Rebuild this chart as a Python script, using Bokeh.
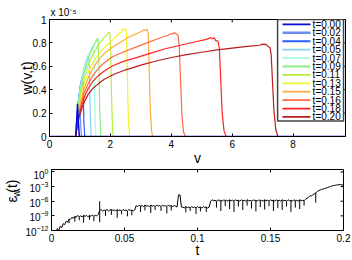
import numpy as np
from math import pi
from bokeh.plotting import figure
from bokeh.models import FixedTicker, ColumnDataSource
from bokeh.layouts import column, row
from bokeh.embed import file_html
from bokeh.resources import INLINE
from bokeh.core.properties import value

FONT = "Liberation Sans"

# ---------------- data: top panel (w in units of 1e-5) ----------------
legend_labels = ["t=0.00", "t=0.02", "t=0.04", "t=0.05", "t=0.07", "t=0.09",
                 "t=0.11", "t=0.13", "t=0.15", "t=0.16", "t=0.18", "t=0.20"]
line_colors = ["#0a0ad8", "#6e8cf2", "#2a5cff", "#8ad0ff", "#a8fce6", "#88ee88",
               "#b6ee3a", "#f2f22e", "#ffaa3c", "#ff6a48", "#ff2424", "#b81c1c"]

v_000 = [0.0, 0.86, 0.89, 0.92, 0.95, 0.98, 9.72]
w_000 = [0, 0, 0.12, 0.28, 0.12, 0, 0]
v_002 = [0.86, 0.9, 0.95, 0.99, 1.02, 1.05]
w_002 = [0, 0.16, 0.30, 0.37, 0.12, 0]
v_004 = [0.86, 0.9, 0.96, 1.02, 1.07, 1.1, 1.13, 1.16]
w_004 = [0, 0.17, 0.34, 0.45, 0.51, 0.44, 0.12, 0]
v_005 = [0.86, 0.9, 0.96, 1.04, 1.13, 1.22, 1.28, 1.31, 1.34, 1.37]
w_005 = [0, 0.17, 0.34, 0.47, 0.58, 0.66, 0.70, 0.58, 0.18, 0]
v_007 = [0.86, 0.9, 0.96, 1.04, 1.13, 1.22, 1.32, 1.39, 1.43, 1.46, 1.49, 1.52]
w_007 = [0, 0.16, 0.32, 0.45, 0.56, 0.64, 0.72, 0.76, 0.78, 0.66, 0.22, 0]
v_009 = [0.86, 0.9, 0.96, 1.04, 1.13, 1.22, 1.32, 1.42, 1.5, 1.56, 1.59, 1.62, 1.65, 1.68]
w_009 = [0, 0.15, 0.30, 0.43, 0.54, 0.62, 0.70, 0.76, 0.80, 0.83, 0.84, 0.66, 0.22, 0]
v_011 = [0.86, 0.91, 0.97, 1.05, 1.15, 1.27, 1.42, 1.6, 1.78, 1.9, 1.95, 1.98, 2.01, 2.04, 2.07, 2.1]
w_011 = [0, 0.14, 0.28, 0.40, 0.51, 0.61, 0.70, 0.78, 0.84, 0.875, 0.89, 0.885, 0.72, 0.32, 0.06, 0]
v_013 = [0.86, 0.91, 0.97, 1.05, 1.15, 1.27, 1.42, 1.6, 1.8, 2.05, 2.25, 2.37, 2.42, 2.46,
         2.5, 2.53, 2.56, 2.59, 2.63]
w_013 = [0, 0.12, 0.25, 0.36, 0.46, 0.55, 0.63, 0.70, 0.76, 0.82, 0.87, 0.90, 0.92, 0.91,
         0.92, 0.87, 0.50, 0.14, 0]
v_015 = [0.86, 0.91, 0.97, 1.05, 1.15, 1.27, 1.42, 1.6, 1.8, 2.05, 2.35, 2.65, 2.9, 3.04,
         3.1, 3.15, 3.2, 3.24, 3.27, 3.31, 3.35, 3.39]
w_015 = [0, 0.11, 0.22, 0.32, 0.42, 0.50, 0.58, 0.65, 0.71, 0.76, 0.81, 0.855, 0.885, 0.90,
         0.915, 0.905, 0.92, 0.88, 0.60, 0.24, 0.05, 0]
v_016 = [0.86, 0.91, 0.97, 1.05, 1.15, 1.27, 1.42, 1.6, 1.8, 2.05, 2.4, 2.8, 3.2, 3.6, 3.9,
         4.0, 4.05, 4.1, 4.16, 4.22, 4.26, 4.3, 4.35, 4.4, 4.46]
w_016 = [0, 0.10, 0.20, 0.29, 0.38, 0.45, 0.52, 0.58, 0.63, 0.68, 0.72, 0.76, 0.80, 0.84, 0.865,
         0.88, 0.875, 0.89, 0.875, 0.865, 0.78, 0.50, 0.18, 0.04, 0]
v_018 = [0.86, 0.91, 0.97, 1.05, 1.15, 1.27, 1.42, 1.6, 1.8, 2.05, 2.4, 2.8, 3.3, 3.8, 4.3,
         4.8, 5.15, 5.3, 5.35, 5.4, 5.46, 5.53, 5.58, 5.62, 5.67, 5.73, 5.8]
w_018 = [0, 0.09, 0.18, 0.26, 0.34, 0.41, 0.47, 0.52, 0.56, 0.60, 0.64, 0.67, 0.71, 0.75, 0.78,
         0.81, 0.83, 0.845, 0.835, 0.845, 0.82, 0.815, 0.75, 0.50, 0.20, 0.05, 0]
v_020 = [0.86, 0.91, 0.97, 1.05, 1.15, 1.27, 1.42, 1.6, 1.8, 2.1, 2.5, 3.0, 3.5, 4.0, 4.5,
         5.0, 5.5, 6.0, 6.5, 6.9, 7.0, 7.05, 7.1, 7.17, 7.24, 7.28, 7.32, 7.37, 7.43, 7.5]
w_020 = [0, 0.08, 0.16, 0.23, 0.30, 0.36, 0.41, 0.45, 0.49, 0.53, 0.57, 0.61, 0.645, 0.675, 0.70,
         0.72, 0.74, 0.755, 0.77, 0.78, 0.79, 0.785, 0.79, 0.77, 0.76, 0.70, 0.48, 0.22, 0.06, 0]

curves_v = [v_000, v_002, v_004, v_005, v_007, v_009, v_011, v_013, v_015, v_016, v_018, v_020]
curves_w = [w_000, w_002, w_004, w_005, w_007, w_009, w_011, w_013, w_015, w_016, w_018, w_020]

top_xticks = [0, 2, 4, 6, 8]
top_yticks = [0, 0.2, 0.4, 0.6, 0.8, 1]

# ---------------- data: bottom panel (log10 of error) ----------------
t_first = 0.003
t_step = 0.001
log10_err = [
    -12.4, -11.6, -12.0, -11.1, -11.4, -10.6, -10.8, -10.1, -10.3, -9.7,
    -9.7, -9.3, -9.5, -9.1, -9.3, -8.9, -9.2, -9.0, -9.2, -8.9,
    -9.1, -8.9, -9.2, -8.9, -9.1, -8.8, -9.1, -8.9, -9.0, -8.7,
    -7.9, -7.7, -8.0, -7.8, -7.9, -7.7, -8.0, -7.8, -7.7, -7.9,
    -7.8, -8.0, -7.7, -7.9, -7.8, -8.0, -7.7, -7.9, -7.8, -8.0,
    -7.7, -7.9, -7.8, -8.0, -7.8,
    -6.9, -7.1, -6.8, -7.0, -6.9, -7.1, -6.8, -7.0, -6.9, -7.1,
    -6.8, -7.0, -6.9, -7.1, -6.8, -7.0, -6.9, -7.1, -6.8, -7.0,
    -6.9, -7.1, -6.8, -7.0, -6.9, -7.1, -6.9, -7.0, -7.2,
    -4.7, -4.7, -7.2,
    -7.2, -7.4, -7.1, -7.3, -7.2, -7.4, -7.1, -7.3, -7.2, -7.4,
    -7.1, -7.3, -7.2, -7.4, -7.1, -7.3, -7.2, -7.4, -7.2, -6.0,
    -5.7, -5.9, -5.8, -6.0, -5.7, -5.9, -5.8, -6.0, -5.7, -5.9,
    -5.8, -6.0, -5.7, -5.9, -5.8, -6.0, -5.7, -5.9, -5.8, -6.0,
    -5.7, -5.9, -5.8, -6.0, -5.7, -5.9, -5.8, -6.0, -5.7, -5.9,
    -5.8, -6.0, -5.7, -5.9, -5.8, -6.0, -5.7, -5.9, -5.8, -6.0,
    -5.7, -5.9, -5.8, -6.0, -5.7, -5.9, -5.8, -6.0, -5.7, -5.9,
    -5.8, -6.0, -5.7, -5.9, -5.8, -6.0, -5.7, -5.9, -5.8, -6.0,
    -5.7, -5.9, -5.8, -5.9, -5.6, -5.4, -5.2, -4.9, -4.9, -4.7,
    -4.5, -4.3, -4.0, -3.85, -3.7, -3.6, -3.5, -3.4, -3.3, -3.2,
    -3.1, -3.0, -2.9, -2.8, -2.75, -2.7, -2.65, -2.6, -2.6, -2.65, -2.75,
]
# thin excursions away from the noisy band (time, log10 of the extreme value)
spike_t = [0.012, 0.016, 0.019, 0.022, 0.026, 0.029, 0.033, 0.033, 0.037, 0.041, 0.045,
           0.048, 0.052, 0.055, 0.061, 0.064, 0.068, 0.071, 0.075, 0.079, 0.082, 0.092,
           0.095, 0.099, 0.102, 0.106, 0.113, 0.116, 0.119, 0.122, 0.125, 0.128, 0.131,
           0.134, 0.137, 0.140, 0.143, 0.146, 0.149, 0.152, 0.155, 0.158, 0.161, 0.164,
           0.167, 0.170, 0.173, 0.181]
spike_log10 = [-10.5, -10.2, -9.9, -10.4, -9.8, -10.1, -6.0, -10.3, -9.0, -8.8, -9.4,
               -8.7, -9.1, -8.9, -8.2, -7.9, -8.4, -7.8, -8.0, -8.5, -7.9, -8.3,
               -8.0, -8.6, -8.1, -8.2, -7.3, -8.0, -7.0, -7.6, -8.2, -7.1, -7.8,
               -6.9, -7.5, -8.1, -7.2, -7.7, -7.0, -8.0, -7.4, -7.8, -7.1, -8.2,
               -7.3, -7.6, -6.9, -6.3]

t_vals = [round(t_first + i * t_step, 3) for i in range(len(log10_err))]
err_vals = [10.0 ** e for e in log10_err]
spike_from = [err_vals[int(round((ts - t_first) / t_step))] for ts in spike_t]
spike_to = [10.0 ** e for e in spike_log10]

bot_xticks = [0, 0.05, 0.1, 0.15, 0.2]
bot_yticks = [1e-12, 1e-9, 1e-6, 1e-3, 1]

# ---------------- layout constants (pixels) ----------------
TOP_FRAME_W, TOP_FRAME_H = 296, 120
BOT_FRAME_W, BOT_FRAME_H = 294, 62
LABEL_COL_W = 22
TICK = 3


def style_axis(ax):
    ax.major_tick_in = TICK
    ax.major_tick_out = 0
    ax.minor_tick_in = 0
    ax.minor_tick_out = 0
    ax.axis_line_color = "black"
    ax.major_tick_line_color = "black"
    ax.major_label_text_font = FONT
    ax.major_label_text_color = "black"
    ax.major_label_text_font_size = "10px"
    ax.major_label_standoff = 3
    ax.axis_label_text_font = FONT
    ax.axis_label_text_font_style = "normal"
    ax.axis_label_text_font_size = "14px"
    ax.axis_label_text_color = "black"


# ---------------- top figure ----------------
x1_end, y1_end = 9.72, 1.0
p1 = figure(width=352, height=168, x_range=(0, x1_end), y_range=(0, y1_end),
            output_backend="svg", toolbar_location=None,
            min_border_left=49, min_border_right=7, min_border_top=19, min_border_bottom=29)
p1.xgrid.visible = False
p1.ygrid.visible = False
p1.outline_line_color = "black"
p1.xaxis.ticker = FixedTicker(ticks=top_xticks, minor_ticks=[])
p1.yaxis.ticker = FixedTicker(ticks=top_yticks, minor_ticks=[])
p1.yaxis.major_label_overrides = {0: "0", 0.2: "0.2", 0.4: "0.4", 0.6: "0.6", 0.8: "0.8", 1: "1"}
style_axis(p1.xaxis[0])
style_axis(p1.yaxis[0])
p1.xaxis.axis_label = "v"
p1.xaxis.axis_label_standoff = -1
p1.yaxis.axis_label = "w(v,t)"
p1.yaxis.axis_label_standoff = -5

p1.title.text = "x 10\u207b\u2075"
p1.title.align = "left"
p1.title.offset = 1
p1.title.standoff = 3
p1.title.text_font = FONT
p1.title.text_font_style = "normal"
p1.title.text_font_size = "10px"
p1.title.text_color = "black"

# inward ticks on the top and right edges
dy1 = TICK / TOP_FRAME_H * y1_end
dx1 = TICK / TOP_FRAME_W * x1_end
p1.segment(x0=top_xticks, y0=[y1_end] * len(top_xticks), x1=top_xticks,
           y1=[y1_end - dy1] * len(top_xticks), line_color="black", line_width=1)
p1.segment(x0=[x1_end] * len(top_yticks), y0=top_yticks, x1=[x1_end - dx1] * len(top_yticks),
           y1=top_yticks, line_color="black", line_width=1)

for i in range(1, len(curves_v)):
    p1.line(curves_v[i], curves_w[i], line_color=line_colors[i], line_width=1.2)
p1.line(curves_v[0], curves_w[0], line_color=line_colors[0], line_width=1.5)

# legend (drawn manually so the rows are as tight as in the reference)
n = len(legend_labels)
row_y = [0.958 - 0.0719 * i for i in range(n)]
p1.quad(left=[7.49], right=[9.655], bottom=[0.133], top=[1.0],
        fill_color="white", line_color="#444444", line_width=1.5)
leg_src = ColumnDataSource(dict(
    x0=[7.65] * n, x1=[8.57] * n, y=row_y, xt=[8.64] * n,
    color=line_colors, label=legend_labels,
    lw=[2.5 if lab == "t=0.02" else 1.8 for lab in legend_labels]))
p1.segment(x0="x0", y0="y", x1="x1", y1="y", line_color="color", line_width="lw", source=leg_src)
p1.text(x="xt", y="y", text="label", source=leg_src, text_font=value(FONT),
        text_font_size="10px", text_baseline="middle", text_align="left", text_color="black")

# ---------------- bottom figure ----------------
x2_end = 0.2
y2_lo_exp, y2_hi_exp = -12.0, 0.5
p2 = figure(width=352 - LABEL_COL_W, height=92, x_range=(0, x2_end),
            y_range=(10 ** y2_lo_exp, 10 ** y2_hi_exp),
            y_axis_type="log", output_backend="svg", toolbar_location=None,
            min_border_left=49 - LABEL_COL_W, min_border_right=9, min_border_top=1,
            min_border_bottom=29)
p2.xgrid.visible = False
p2.ygrid.visible = False
p2.outline_line_color = "black"
p2.xaxis.ticker = FixedTicker(ticks=bot_xticks, minor_ticks=[])
p2.xaxis.major_label_overrides = {0: "0", 0.05: "0.05", 0.1: "0.1", 0.15: "0.15", 0.2: "0.2"}
p2.yaxis.ticker = FixedTicker(ticks=bot_yticks, minor_ticks=[])
style_axis(p2.xaxis[0])
style_axis(p2.yaxis[0])
p2.xaxis.axis_label = "t"
p2.xaxis.axis_label_standoff = -3

px_per_dec = BOT_FRAME_H / (y2_hi_exp - y2_lo_exp)
dx2 = TICK / BOT_FRAME_W * x2_end
p2.segment(x0=bot_xticks, y0=[10 ** y2_hi_exp] * len(bot_xticks), x1=bot_xticks,
           y1=[10 ** (y2_hi_exp - TICK / px_per_dec)] * len(bot_xticks),
           line_color="black", line_width=1)
p2.segment(x0=[x2_end] * len(bot_yticks), y0=bot_yticks, x1=[x2_end - dx2] * len(bot_yticks),
           y1=bot_yticks, line_color="black", line_width=1)

p2.line(t_vals, err_vals, line_color="black", line_width=1)
p2.segment(x0=spike_t, y0=spike_from, x1=spike_t, y1=spike_to, line_color="black", line_width=1)

# ---------------- y label of the bottom panel: eps with subscript w ----------------
pl = figure(width=LABEL_COL_W, height=92, x_range=(0, LABEL_COL_W), y_range=(0, 92),
            x_axis_location=None, y_axis_location=None, output_backend="svg",
            toolbar_location=None, min_border_left=0, min_border_right=0,
            min_border_top=0, min_border_bottom=0)
pl.outline_line_color = None
pl.xgrid.visible = False
pl.ygrid.visible = False
lab_src = ColumnDataSource(dict(x=[11, 15.5, 11], y=[47, 56, 67], text=["ε", "w", "(t)"],
                                size=["14px", "10px", "14px"]))
pl.text(x="x", y="y", text="text", source=lab_src, angle=pi / 2, text_font=value(FONT),
        text_font_size="size", text_align="center", text_baseline="middle", text_color="black")

layout = column(p1, row(pl, p2, spacing=0), spacing=0)
open("out.html", "w").write(file_html(layout, INLINE))
